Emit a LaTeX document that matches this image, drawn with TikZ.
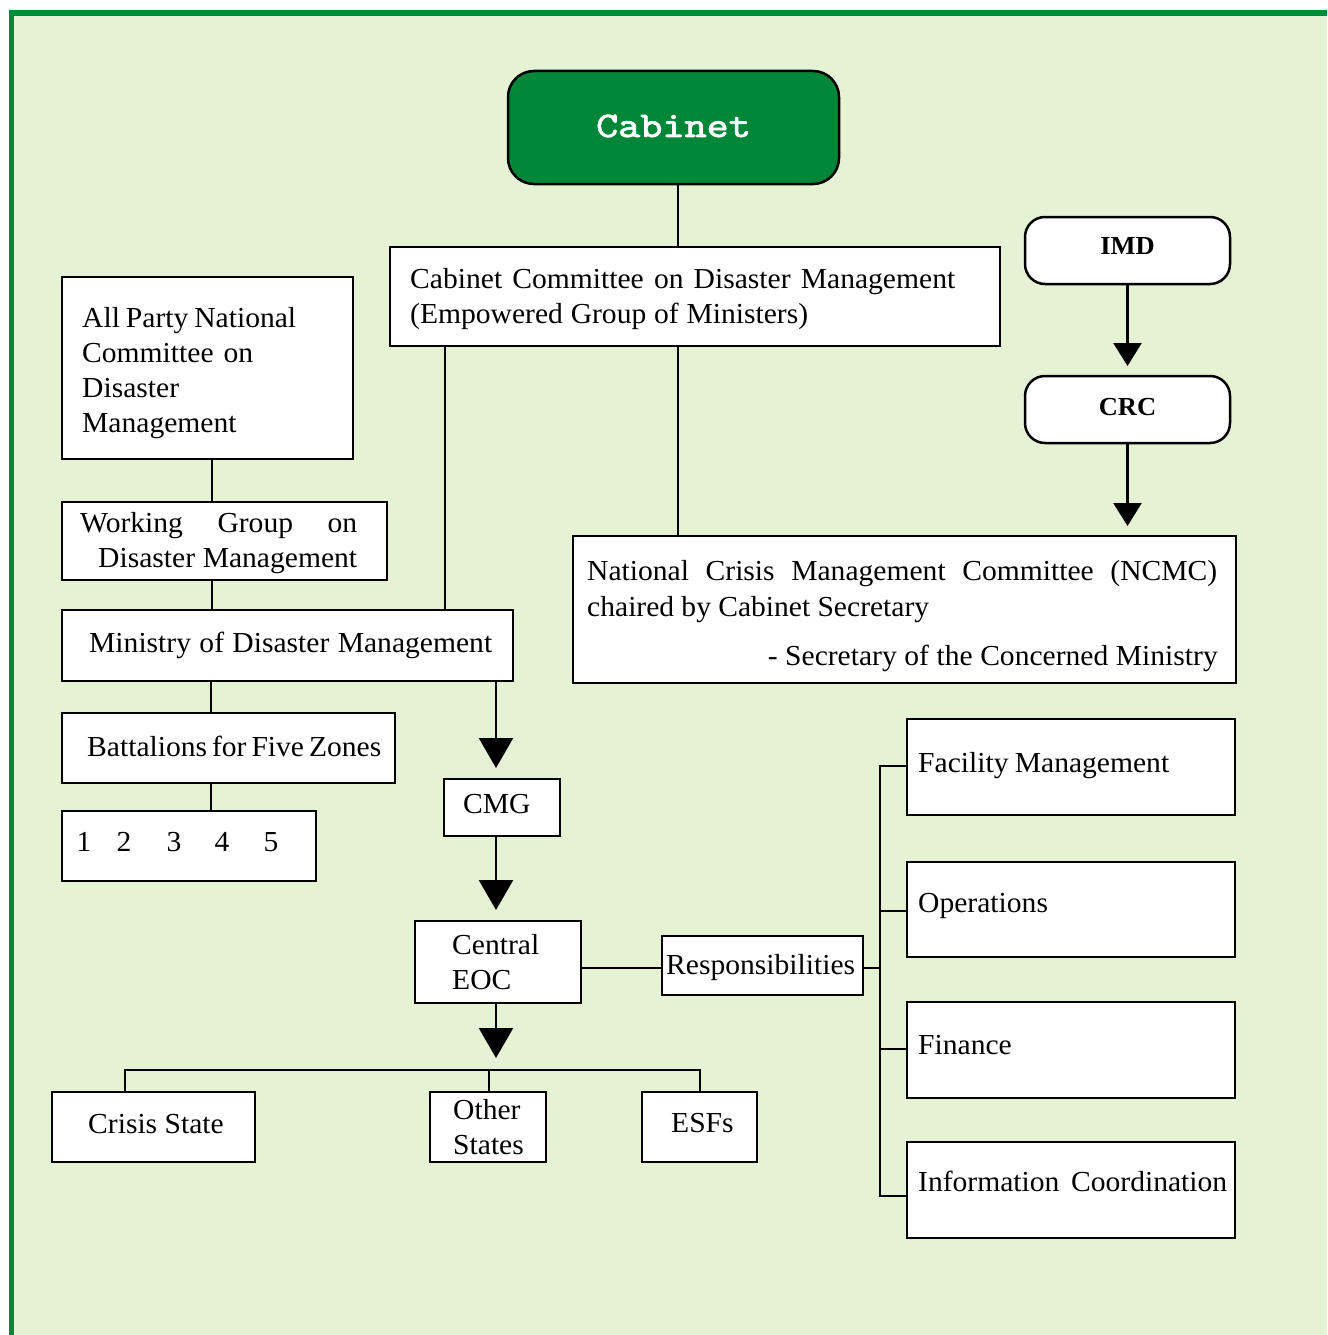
\documentclass[tikz,border=0pt]{standalone}
\usepackage{fontspec}
\setmainfont[FakeStretch=1.02]{Liberation Serif}
\newfontfamily\cabfont[FakeBold=2,FakeStretch=1.17]{lmmono10-regular.otf}
\usetikzlibrary{arrows.meta,fit}

\definecolor{pagegreen}{RGB}{229,242,212}
\definecolor{framegreen}{RGB}{0,136,55}
\definecolor{cabgreen}{RGB}{0,134,56}

\tikzset{
  box/.style={draw=black, line width=2.5pt, fill=white, inner sep=0pt, outer sep=0pt},
  rbox/.style={box, rounded corners=20pt},
  cabbox/.style={box, fill=cabgreen, rounded corners=26pt},
  txt/.style={inner sep=0pt, font=\fontsize{29}{35}\selectfont, anchor=base west},
  ctxt/.style={txt, anchor=base},
  link/.style={line width=2.5pt},
  arr/.style={link, -{Triangle[width=34pt,length=30pt]}},
  sarr/.style={link, -{Triangle[width=28pt,length=23pt]}},
}

% box from corner (x1,y1) to corner (x2,y2)
\newcommand{\drawbox}[6][box]{%
  \path (#3,#4) coordinate (#2-a) (#5,#6) coordinate (#2-b);
  \node[#1, fit=(#2-a)(#2-b)] (#2) {};
}
% a text line set to a given width
\newcommand{\wline}[2]{\makebox[#1pt][s]{#2}}

\begin{document}
\begin{tikzpicture}[x=1pt,y=-1pt]
\useasboundingbox (0,0) rectangle (1327,1335);

% page and frame
\fill[white] (0,0) rectangle (1327,1335);
\fill[pagegreen] (12,13) rectangle (1327,1335);
\draw[framegreen, line width=6pt] (9,13) -- (1327,13);
\draw[framegreen, line width=5pt] (11.5,10) -- (11.5,1335);

% ---------- boxes ----------
\drawbox[cabbox]{cab}{508}{71}{839}{184}
\node[inner sep=0pt, text=white, font=\cabfont\fontsize{36}{40}\selectfont] (cabt) at (673.5,126) {Cabinet};

\drawbox{ccdm}{390}{247}{1000}{346}
\node[txt] (ccdm1) at (410,288) {\wline{545}{Cabinet Committee on Disaster Management}};
\node[txt] (ccdm2) at (410,323) {\wline{398}{(Empowered Group of Ministers)}};

\drawbox{allp}{62}{277}{353}{459}
\node[txt] (allp1) at (82,327) {\wline{214}{All Party National}};
\node[txt] (allp2) at (82,362) {\wline{171}{Committee on}};
\node[txt] (allp3) at (82,397) {Disaster};
\node[txt] (allp4) at (82,432) {Management};

\drawbox{wg}{62}{502}{387}{580}
\node[txt] (wg1) at (80,532) {\wline{277}{Working Group on}};
\node[txt] (wg2) at (98,567) {\wline{259}{Disaster Management}};

\drawbox{mdm}{62}{610}{513}{681}
\node[txt] (mdmt) at (89,652) {\wline{403}{Ministry of Disaster Management}};

\drawbox{batt}{62}{713}{395}{783}
\node[txt] (battt) at (87,756) {\wline{294}{Battalions for Five Zones}};

\drawbox{zones}{62}{811}{316}{881}
\node[ctxt] (z1) at (84,851) {1};
\node[ctxt] (z2) at (124,851) {2};
\node[ctxt] (z3) at (174,851) {3};
\node[ctxt] (z4) at (222,851) {4};
\node[ctxt] (z5) at (271,851) {5};

\drawbox{cmg}{444}{779}{560}{836}
\node[txt] (cmgt) at (463,813) {CMG};

\drawbox{eoc}{415}{921}{581}{1003}
\node[txt] (eoc1) at (452,954) {Central};
\node[txt] (eoc2) at (452,989) {EOC};

\drawbox{crisis}{52}{1092}{255}{1162}
\node[txt] (crisist) at (88,1133) {Crisis State};

\drawbox{other}{430}{1092}{546}{1162}
\node[txt] (other1) at (453,1119) {Other};
\node[txt] (other2) at (453,1154) {States};

\drawbox{esfs}{642}{1092}{757}{1162}
\node[txt] (esfst) at (671,1132) {ESFs};

\drawbox{resp}{662}{936}{863}{995}
\node[txt] (respt) at (666,974) {\wline{187}{Responsibilities}};

\drawbox{fac}{907}{719}{1235}{815}
\node[txt] (fact) at (918,772) {\wline{251}{Facility Management}};
\drawbox{ops}{907}{862}{1235}{957}
\node[txt] (opst) at (918,912) {Operations};
\drawbox{fin}{907}{1002}{1235}{1098}
\node[txt] (fint) at (918,1054) {Finance};
\drawbox{info}{907}{1142}{1235}{1238}
\node[txt] (infot) at (918,1191) {\wline{309}{Information Coordination}};

\drawbox{ncmc}{573}{536}{1236}{683}
\node[txt] (ncmc1) at (587,580) {\wline{630}{National Crisis Management Committee (NCMC)}};
\node[txt] (ncmc2) at (587,616) {\wline{342}{chaired by Cabinet Secretary}};
\node[txt, anchor=base east] (ncmc3) at (1218,665) {\wline{450}{- Secretary of the Concerned Ministry}};

\drawbox[rbox]{imd}{1025}{217}{1230}{284}
\node[inner sep=0pt, font=\bfseries\fontsize{26}{30}\selectfont] (imdt) at (1127.5,246) {IMD};
\drawbox[rbox]{crc}{1025}{376}{1230}{443}
\node[inner sep=0pt, font=\bfseries\fontsize{26}{30}\selectfont] (crct) at (1127.5,407) {CRC};

% ---------- guide coordinates ----------
\coordinate (x678) at (678,0);
\coordinate (x445) at (445,0);
\coordinate (x212) at (212,0);
\coordinate (x211) at (211,0);
\coordinate (x496) at (496,0);
\coordinate (x125) at (125,0);
\coordinate (x489) at (489,0);
\coordinate (x700) at (700,0);
\coordinate (yresp) at (0,968);
\coordinate (busmid) at (496,1070);
\coordinate (busl) at (125,1070);
\coordinate (busr) at (700,1070);
\coordinate (busc) at (489,1070);
\coordinate (rjoin) at (880,968);
\coordinate (rtop) at (880,766);
\coordinate (r2) at (880,911);
\coordinate (r3) at (880,1049);
\coordinate (rbot) at (880,1196);

% ---------- connectors ----------
\draw[link] (cab.south -| x678) -- (ccdm.north -| x678);
\draw[link] (ccdm.south -| x445) -- (mdm.north -| x445);
\draw[link] (ccdm.south -| x678) -- (ncmc.north -| x678);
\draw[link] (allp.south -| x212) -- (wg.north -| x212);
\draw[link] (wg.south -| x212) -- (mdm.north -| x212);
\draw[link] (mdm.south -| x211) -- (batt.north -| x211);
\draw[link] (batt.south -| x211) -- (zones.north -| x211);

\draw[arr, shorten >=11pt] (mdm.south -| x496) -- (cmg.north -| x496);
\draw[arr, shorten >=11pt] (cmg.south -| x496) -- (eoc.north -| x496);
\draw[arr, shorten >=12pt] (eoc.south -| x496) -- (busmid);

\draw[link] (crisis.north -| x125) -- (busl) -- (busr) -- (esfs.north -| x700);
\draw[link] (busc) -- (other.north -| x489);

\draw[link] (eoc.east |- yresp) -- (resp.west |- yresp);
\draw[link] (resp.east |- yresp) -- (rjoin);
\draw[link] (fac.west |- rtop) -- (rtop) -- (rbot) -- (info.west |- rbot);
\draw[link] (r2) -- (ops.west |- r2);
\draw[link] (r3) -- (fin.west |- r3);

\draw[sarr, shorten >=10pt] (imd.south) -- (crc.north);
\draw[sarr, shorten >=10pt] (crc.south) -- (ncmc.north -| crc.south);
\end{tikzpicture}
\end{document}
